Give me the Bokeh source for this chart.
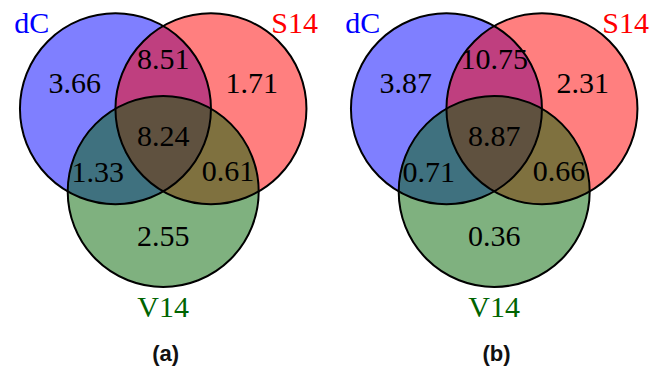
import math
from bokeh.plotting import figure
from bokeh.models import ColumnDataSource, Range1d
from bokeh.embed import file_html
from bokeh.resources import INLINE
from bokeh.core.properties import value

# ---- data ----
set_names = ["dC", "S14", "V14"]
set_text_colors = ["#0000ff", "#ff0000", "#006400"]
set_fill_colors = ["#0000ff", "#ff0000", "#006400"]
# region order: dC only, S14 only, V14 only, dC&S14, dC&V14, S14&V14, all three
region_keys = ["100", "010", "001", "110", "101", "011", "111"]
values_a = [3.66, 1.71, 2.55, 8.51, 1.33, 0.61, 8.24]
values_b = [3.87, 2.31, 0.36, 10.75, 0.71, 0.66, 8.87]
panel_values = [values_a, values_b]
captions = ["(a)", "(b)"]

# ---- layout (units: circle radius = 1) ----
PX = 95.5                 # pixels per unit
W, H = 662, 366
CX0, CY0 = 162.7, 135.8   # centroid of panel (a) in figure pixels
PANEL_DX = 331 / PX
R = 1.0
center_dist = R / math.sqrt(3)
circle_angles = [150, 30, 270]
region_polar = {"100": (1.07, 150), "010": (1.07, 30), "001": (1.07, 270),
                "110": (0.785, 90), "101": (0.79, 210), "011": (0.785, 330),
                "111": (0.02, 270)}
name_polar = [(1.81, 139.5), (1.81, 40.5), (1.80, 270)]
caption_y = (CY0 - 353) / PX


def pol(r, a):
    return r * math.cos(math.radians(a)), r * math.sin(math.radians(a))


p = figure(width=W, height=H, output_backend="svg", toolbar_location=None,
           x_range=Range1d(-CX0 / PX, (W - CX0) / PX),
           y_range=Range1d(CY0 / PX - H / PX, CY0 / PX),
           min_border=0, outline_line_color=None)
p.axis.visible = False
p.grid.visible = False
p.background_fill_color = "white"
p.border_fill_color = "white"

for k, vals in enumerate(panel_values):
    ox = k * PANEL_DX
    cx = [ox + pol(center_dist, a)[0] for a in circle_angles]
    cy = [pol(center_dist, a)[1] for a in circle_angles]
    # fills
    for i in range(3):
        p.circle(x=[cx[i]], y=[cy[i]], radius=R, fill_color=set_fill_colors[i],
                 fill_alpha=0.5, line_color=None)
    # outlines on top
    p.circle(x=cx, y=cy, radius=R, fill_color=None, line_color="black",
             line_width=2)
    # region values
    xs, ys, txt = [], [], []
    for key, v in zip(region_keys, vals):
        dx, dy = pol(*region_polar[key])
        xs.append(ox + dx)
        ys.append(dy)
        txt.append("%.2f" % v)
    src = ColumnDataSource(dict(x=xs, y=ys, t=txt))
    p.text(x="x", y="y", text="t", source=src, text_align="center",
           text_baseline="middle", text_font=value("Liberation Serif"),
           text_font_size="30px", text_color="black", y_offset=-2)
    # set names
    nx = [ox + pol(*name_polar[i])[0] for i in range(3)]
    ny = [pol(*name_polar[i])[1] for i in range(3)]
    nsrc = ColumnDataSource(dict(x=nx, y=ny, t=set_names, c=set_text_colors))
    p.text(x="x", y="y", text="t", text_color="c", source=nsrc,
           text_align="center", text_baseline="middle",
           text_font=value("Liberation Serif"), text_font_size="30px",
           y_offset=-2)
    # caption
    p.text(x=[ox + 0.025], y=[caption_y], text=[captions[k]], text_align="center",
           text_baseline="middle", text_font=value("Liberation Sans"),
           text_font_style="bold", text_font_size="22px", text_color="#111111")

open("out.html", "w").write(file_html(p, INLINE))
